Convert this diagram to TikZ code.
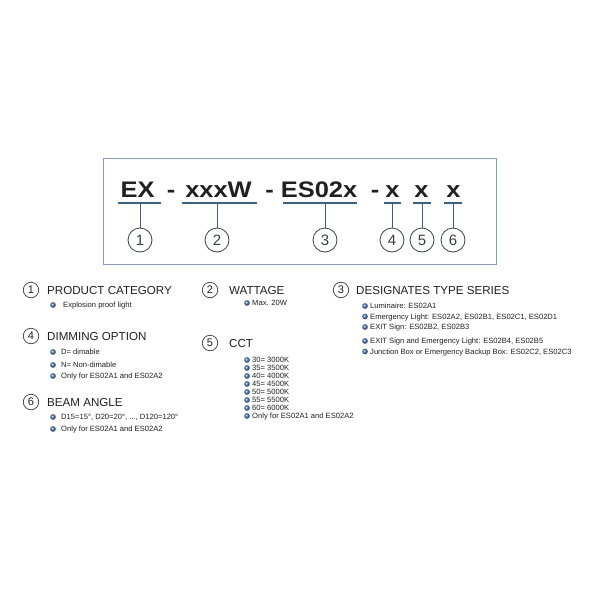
\documentclass[tikz,border=0pt]{standalone}
\usepackage{fontspec}
\setmainfont{Liberation Sans}
\definecolor{txt}{HTML}{231F20}
\definecolor{uline}{HTML}{3D5F85}
\definecolor{boxc}{HTML}{8A9BB8}
\definecolor{circc}{HTML}{3A3F48}
\definecolor{bul}{HTML}{4A78BE}
\tikzset{
  code/.style={anchor=base,inner sep=0pt,text=txt,font=\fontsize{22.5}{22}\selectfont\bfseries},
  ul/.style={draw=uline,line width=1.6pt},
  stem/.style={draw=uline,line width=0.9pt},
  bignum/.style={circle,draw=circc,line width=0.8pt,fill=white,minimum size=24pt,inner sep=0pt,text=circc,font=\fontsize{15}{15}\selectfont},
  smallnum/.style={circle,draw=circc,line width=0.7pt,fill=white,minimum size=15.5pt,inner sep=0pt,text=txt,font=\fontsize{11}{11}\selectfont},
  head/.style={anchor=base west,inner sep=0pt,text=txt,font=\fontsize{11.6}{12}\selectfont},
  bullet/.style={circle,inner sep=0pt,minimum size=5.6pt,ball color=bul,draw=none},
  item/.style={anchor=base west,inner sep=0pt,text=txt,font=\fontsize{7.6}{8}\selectfont},
}
\newcommand{\xs}[1]{\scalebox{1.13}[1]{#1}}
\begin{document}
\begin{tikzpicture}[x=1pt,y=-1pt]
\useasboundingbox[fill=white] (0,0) rectangle (600,600);
% frame
\node[draw=boxc,line width=0.9pt,minimum width=393pt,minimum height=106pt,inner sep=0pt,anchor=north west] (frame) at (103,158) {};
% code tokens
\node[code] (t1) at (137.5,197) {\xs{EX}};
\node[code] (d1) at (171,197) {\xs{-}};
\node[code] (t2) at (218.5,197) {\xs{xxxW}};
\node[code] (d2) at (269.5,197) {\xs{-}};
\node[code] (t3) at (319,197) {\xs{ES02x}};
\node[code] (d3) at (375,197) {\xs{-}};
\node[code] (t4) at (392.5,197) {\xs{x}};
\node[code] (t5) at (421.5,197) {\xs{x}};
\node[code] (t6) at (453.5,197) {\xs{x}};
% underlines
\coordinate (u1a) at (118,203); \coordinate (u1b) at (161,203); \coordinate (u1) at (140,203);
\coordinate (u2a) at (182,203); \coordinate (u2b) at (257,203); \coordinate (u2) at (217,203);
\coordinate (u3a) at (283,203); \coordinate (u3b) at (357,203); \coordinate (u3) at (325,203);
\coordinate (u4a) at (384,203); \coordinate (u4b) at (401,203); \coordinate (u4) at (392,203);
\coordinate (u5a) at (413,203); \coordinate (u5b) at (431,203); \coordinate (u5) at (422,203);
\coordinate (u6a) at (444,203); \coordinate (u6b) at (462,203); \coordinate (u6) at (453,203);
\foreach \i in {1,...,6} {\draw[ul] (u\i a) -- (u\i b);}
% circles
\node[bignum] (c1) at (140,240) {1};
\node[bignum] (c2) at (217,240) {2};
\node[bignum] (c3) at (325,240) {3};
\node[bignum] (c4) at (392,240) {4};
\node[bignum] (c5) at (422,240) {5};
\node[bignum] (c6) at (453,240) {6};
\foreach \i in {1,...,6} {\draw[stem] (u\i) -- (c\i.north);}
% ---- legend ----
% 1
\node[smallnum] (n1) at (31,290) {1};
\node[head] (h1) at (47,294.3) {PRODUCT CATEGORY};
\node[bullet] (b11) at (53,305) {};
\node[item] (i11) at (63,307.7) {Explosion proof light};
% 2
\node[smallnum] (n2) at (210,290) {2};
\node[head] (h2) at (229,294.3) {WATTAGE};
\node[bullet] (b21) at (247,303) {};
\node[item] (i21) at (252,305.7) {Max. 20W};
% 3
\node[smallnum] (n3) at (341,290) {3};
\node[head] (h3) at (356,294.3) {DESIGNATES TYPE SERIES};
\node[bullet] (b31) at (365,306) {};
\node[item] (i31) at (370,308.7) {Luminaire: ES02A1};
\node[bullet] (b32) at (365,316.5) {};
\node[item] (i32) at (370,319.2) {Emergency Light: ES02A2, ES02B1, ES02C1, ES02D1};
\node[bullet] (b33) at (365,327) {};
\node[item] (i33) at (370,329.7) {EXIT Sign: ES02B2, ES02B3};
\node[bullet] (b34) at (365,341) {};
\node[item] (i34) at (370,343.7) {EXIT Sign and Emergency Light: ES02B4, ES02B5};
\node[bullet] (b35) at (365,351.5) {};
\node[item] (i35) at (370,354.2) {Junction Box or Emergency Backup Box: ES02C2, ES02C3};
% 4
\node[smallnum] (n4) at (31,336) {4};
\node[head] (h4) at (47,340.3) {DIMMING OPTION};
\node[bullet] (b41) at (53,352) {};
\node[item] (i41) at (61,354.7) {D= dimable};
\node[bullet] (b42) at (53,365) {};
\node[item] (i42) at (61,367.7) {N= Non-dimable};
\node[bullet] (b43) at (53,376) {};
\node[item] (i43) at (61,378.7) {Only for ES02A1 and ES02A2};
% 5
\node[smallnum] (n5) at (210,343) {5};
\node[head] (h5) at (229,347.3) {CCT};
\node[bullet] (b51) at (247,360) {};
\node[item] (i51) at (252,362.7) {30= 3000K};
\node[bullet] (b52) at (247,368) {};
\node[item] (i52) at (252,370.7) {35= 3500K};
\node[bullet] (b53) at (247,376) {};
\node[item] (i53) at (252,378.7) {40= 4000K};
\node[bullet] (b54) at (247,384) {};
\node[item] (i54) at (252,386.7) {45= 4500K};
\node[bullet] (b55) at (247,392) {};
\node[item] (i55) at (252,394.7) {50= 5000K};
\node[bullet] (b56) at (247,400) {};
\node[item] (i56) at (252,402.7) {55= 5500K};
\node[bullet] (b57) at (247,408) {};
\node[item] (i57) at (252,410.7) {60= 6000K};
\node[bullet] (b58) at (247,416) {};
\node[item] (i58) at (252,418.7) {Only for ES02A1 and ES02A2};
% 6
\node[smallnum] (n6) at (31,402) {6};
\node[head] (h6) at (47,406.3) {BEAM ANGLE};
\node[bullet] (b61) at (53,417) {};
\node[item] (i61) at (61,419.7) {D15=15°, D20=20°, ..., D120=120°};
\node[bullet] (b62) at (53,429) {};
\node[item] (i62) at (61,431.7) {Only for ES02A1 and ES02A2};
\end{tikzpicture}
\end{document}
